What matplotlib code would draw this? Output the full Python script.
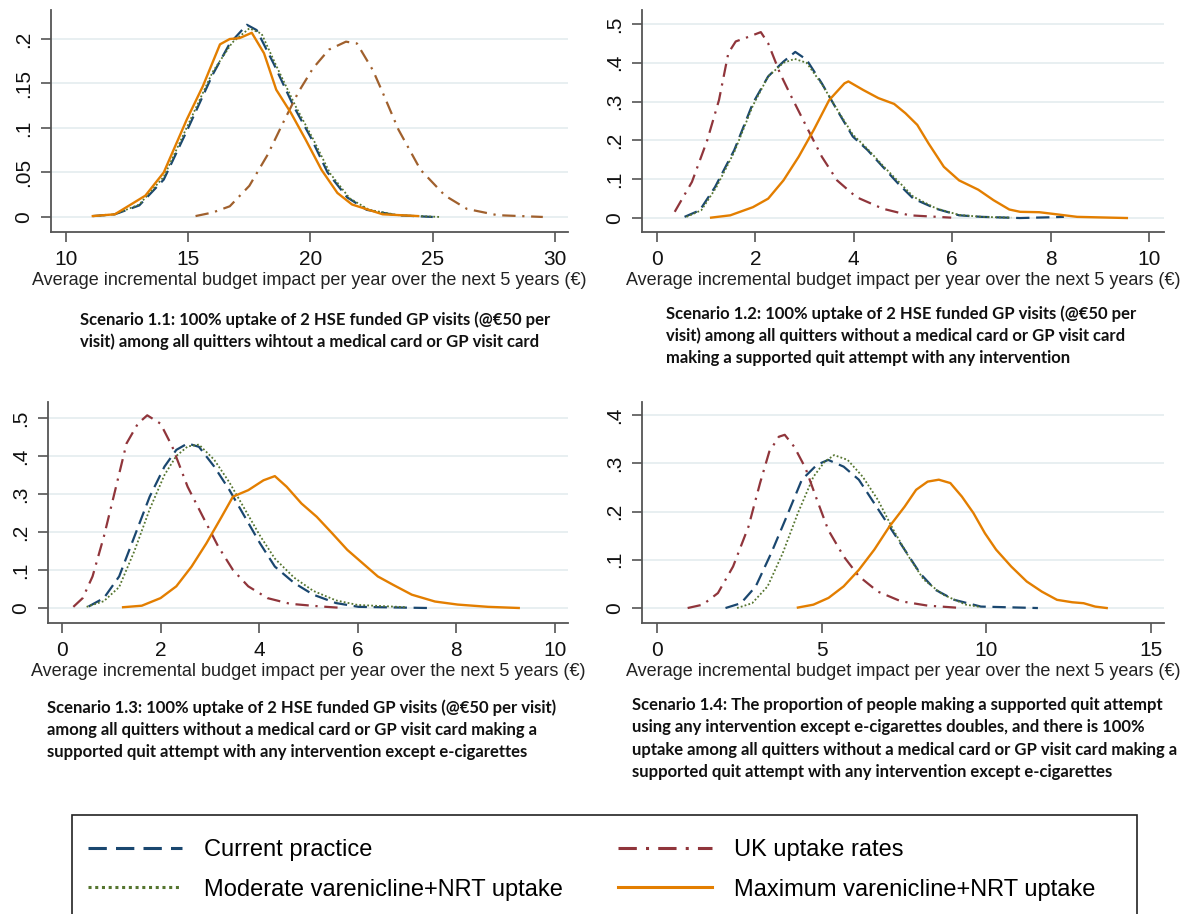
import numpy as np
import matplotlib
matplotlib.use("Agg")
import matplotlib.pyplot as plt
from matplotlib.lines import Line2D
from matplotlib.patches import Rectangle

# ---- data (kernel density curves) ----
# Scenario 1.1
s11_cur_x = [11.1, 12.0, 13.0, 14.0, 15.0, 16.0, 16.7, 17.4, 17.8, 18.5, 19.3, 20.0, 20.7, 21.5, 22.3, 23.5, 25.0]
s11_cur_y = [0.001, 0.003, 0.013, 0.042, 0.100, 0.160, 0.195, 0.216, 0.210, 0.172, 0.125, 0.090, 0.050, 0.022, 0.008, 0.002, 0.000]
s11_mod_x = [11.2, 12.0, 13.0, 14.0, 15.0, 16.0, 16.8, 17.5, 18.0, 18.6, 19.4, 20.1, 20.8, 21.6, 22.4, 23.6, 25.3]
s11_mod_y = [0.001, 0.003, 0.014, 0.045, 0.104, 0.163, 0.196, 0.212, 0.206, 0.170, 0.124, 0.088, 0.049, 0.021, 0.008, 0.002, 0.000]
s11_uk_x = [15.3, 16.0, 16.7, 17.5, 18.25, 18.9, 19.5, 20.1, 20.75, 21.45, 21.9, 22.55, 22.95, 23.6, 24.5, 25.5, 26.4, 27.65, 29.5]
s11_uk_y = [0.001, 0.005, 0.012, 0.035, 0.070, 0.107, 0.140, 0.167, 0.188, 0.197, 0.195, 0.165, 0.140, 0.098, 0.053, 0.024, 0.009, 0.002, 0.000]
s11_max_x = [11.1, 12.0, 13.25, 14.0, 14.95, 15.6, 16.3, 16.7, 17.1, 17.6, 18.1, 18.6, 19.2, 19.8, 20.45, 21.1, 21.7, 22.95, 24.4]
s11_max_y = [0.001, 0.003, 0.024, 0.050, 0.110, 0.147, 0.194, 0.200, 0.201, 0.207, 0.184, 0.143, 0.117, 0.087, 0.053, 0.027, 0.014, 0.003, 0.001]

# Scenario 1.2
s12_cur_x = [0.56, 0.87, 1.18, 1.57, 1.95, 2.26, 2.57, 2.81, 3.04, 3.35, 3.66, 3.98, 4.28, 4.59, 4.9, 5.21, 5.67, 6.14, 6.6, 7.38, 8.0, 8.27]
s12_cur_y = [0.003, 0.020, 0.080, 0.175, 0.296, 0.365, 0.403, 0.428, 0.408, 0.347, 0.278, 0.210, 0.175, 0.132, 0.089, 0.050, 0.024, 0.007, 0.003, 0.000, 0.002, 0.003]
s12_mod_x = [0.6, 0.9, 1.2, 1.57, 1.95, 2.26, 2.57, 2.8, 3.04, 3.35, 3.66, 3.98, 4.28, 4.59, 4.9, 5.21, 5.67, 6.14, 6.6, 7.2]
s12_mod_y = [0.003, 0.020, 0.078, 0.170, 0.290, 0.365, 0.400, 0.410, 0.400, 0.345, 0.280, 0.215, 0.178, 0.135, 0.095, 0.055, 0.025, 0.008, 0.003, 0.001]
s12_uk_x = [0.36, 0.71, 1.02, 1.26, 1.45, 1.6, 1.8, 2.11, 2.26, 2.5, 2.73, 3.04, 3.35, 3.66, 4.05, 4.59, 5.13, 5.98]
s12_uk_y = [0.016, 0.093, 0.200, 0.304, 0.425, 0.455, 0.464, 0.479, 0.450, 0.373, 0.313, 0.235, 0.158, 0.097, 0.054, 0.024, 0.007, 0.001]
s12_max_x = [1.1, 1.49, 1.95, 2.26, 2.57, 2.88, 3.19, 3.5, 3.81, 3.89, 4.19, 4.5, 4.82, 5.05, 5.29, 5.52, 5.83, 6.14, 6.53, 6.84, 7.16, 7.38, 7.77, 8.16, 8.54, 9.55]
s12_max_y = [0.001, 0.007, 0.028, 0.050, 0.097, 0.158, 0.228, 0.304, 0.347, 0.352, 0.330, 0.309, 0.294, 0.270, 0.240, 0.192, 0.132, 0.097, 0.073, 0.046, 0.022, 0.016, 0.015, 0.009, 0.003, 0.000]

# Scenario 1.3
s13_cur_x = [0.54, 0.85, 1.16, 1.47, 1.78, 2.08, 2.32, 2.55, 2.78, 3.09, 3.4, 3.71, 4.02, 4.32, 4.71, 5.1, 5.56, 6.02, 7.41]
s13_cur_y = [0.004, 0.026, 0.083, 0.188, 0.293, 0.372, 0.416, 0.433, 0.424, 0.372, 0.310, 0.240, 0.170, 0.109, 0.066, 0.035, 0.013, 0.003, 0.000]
s13_mod_x = [0.5, 0.85, 1.16, 1.47, 1.78, 2.08, 2.32, 2.55, 2.78, 3.09, 3.4, 3.71, 4.02, 4.32, 4.71, 5.1, 5.56, 6.0, 7.0]
s13_mod_y = [0.003, 0.018, 0.055, 0.150, 0.260, 0.350, 0.400, 0.425, 0.430, 0.390, 0.330, 0.260, 0.190, 0.130, 0.080, 0.045, 0.020, 0.008, 0.002]
s13_uk_x = [0.23, 0.42, 0.62, 0.85, 1.08, 1.31, 1.54, 1.73, 2.0, 2.24, 2.55, 2.86, 3.17, 3.47, 3.78, 4.17, 4.63, 5.25, 5.71]
s13_uk_y = [0.003, 0.026, 0.083, 0.188, 0.310, 0.433, 0.485, 0.507, 0.485, 0.424, 0.319, 0.240, 0.162, 0.100, 0.057, 0.026, 0.011, 0.004, 0.000]
s13_max_x = [1.24, 1.62, 2.0, 2.32, 2.63, 2.93, 3.24, 3.47, 3.78, 4.09, 4.32, 4.56, 4.86, 5.17, 5.48, 5.79, 6.1, 6.41, 6.72, 7.1, 7.57, 8.03, 8.65, 9.27]
s13_max_y = [0.002, 0.006, 0.026, 0.057, 0.109, 0.170, 0.240, 0.293, 0.310, 0.336, 0.347, 0.319, 0.275, 0.240, 0.197, 0.153, 0.118, 0.083, 0.061, 0.035, 0.017, 0.009, 0.003, 0.000]

# Scenario 1.4
s14_cur_x = [2.08, 2.55, 3.0, 3.47, 3.94, 4.4, 4.86, 5.2, 5.67, 6.13, 6.6, 7.06, 7.52, 7.99, 8.45, 9.03, 9.84, 11.57]
s14_cur_y = [0.000, 0.010, 0.045, 0.114, 0.190, 0.266, 0.297, 0.307, 0.293, 0.266, 0.217, 0.169, 0.121, 0.072, 0.038, 0.017, 0.003, 0.000]
s14_mod_x = [2.43, 2.89, 3.36, 3.82, 4.28, 4.75, 5.09, 5.38, 5.79, 6.25, 6.71, 7.18, 7.64, 8.1, 8.68, 9.38, 9.84]
s14_mod_y = [0.000, 0.010, 0.045, 0.114, 0.197, 0.272, 0.303, 0.317, 0.307, 0.272, 0.224, 0.162, 0.107, 0.059, 0.028, 0.007, 0.002]
s14_uk_x = [0.93, 1.39, 1.85, 2.31, 2.78, 3.13, 3.41, 3.7, 3.88, 4.17, 4.51, 4.86, 5.2, 5.67, 6.13, 6.71, 7.41, 8.22, 9.26]
s14_uk_y = [0.000, 0.007, 0.031, 0.086, 0.169, 0.259, 0.324, 0.355, 0.359, 0.334, 0.290, 0.224, 0.162, 0.107, 0.066, 0.034, 0.014, 0.005, 0.000]
s14_max_x = [4.28, 4.75, 5.21, 5.67, 6.13, 6.6, 7.06, 7.52, 7.87, 8.22, 8.56, 8.91, 9.26, 9.61, 9.96, 10.3, 10.76, 11.23, 11.69, 12.15, 12.61, 12.96, 13.31, 13.66]
s14_max_y = [0.001, 0.007, 0.021, 0.045, 0.079, 0.121, 0.169, 0.210, 0.245, 0.262, 0.266, 0.259, 0.231, 0.197, 0.155, 0.121, 0.086, 0.055, 0.034, 0.017, 0.012, 0.010, 0.003, 0.000]

series_names = ["Current practice", "Moderate varenicline+NRT uptake",
                "UK uptake rates", "Maximum varenicline+NRT uptake"]

captions = [
    ["Scenario 1.1: 100% uptake of 2 HSE funded GP visits (@€50 per",
     "visit) among all quitters wihtout a medical card or GP visit card"],
    ["Scenario 1.2: 100% uptake of 2 HSE funded GP visits (@€50 per",
     "visit) among all quitters without a medical card or GP visit card",
     "making a supported quit attempt with any intervention"],
    ["Scenario 1.3: 100% uptake of 2 HSE funded GP visits (@€50 per visit)",
     "among all quitters without a medical card or GP visit card making a",
     "supported quit attempt with any intervention except e-cigarettes"],
    ["Scenario 1.4: The proportion of people making a supported quit attempt",
     "using any intervention except e-cigarettes doubles, and there is 100%",
     "uptake among all quitters without a medical card or GP visit card making a",
     "supported quit attempt with any intervention except e-cigarettes"],
]

x_label = "Average incremental budget impact per year over the next 5 years (€)"

# ---- styles ----
NAVY, MAROON, GREEN, ORANGE = "#1a476f", "#90353b", "#55752f", "#e37e00"
BROWN = "#a0602d"
GRID = "#e6eef0"
AXC = "#555555"
styles = {
    "cur": dict(color=NAVY, lw=1.6, ls=(0, (6, 3))),
    "mod": dict(color=GREEN, lw=1.3, ls=(0, (1, 1.2))),
    "uk": dict(color=MAROON, lw=1.6, ls=(0, (6, 3, 1, 3))),
    "max": dict(color=ORANGE, lw=1.7, ls="-"),
}

plt.rcParams["font.family"] = ["Liberation Sans", "DejaVu Sans"]

W, H = 1199, 914
fig = plt.figure(figsize=(W / 100, H / 100), dpi=100)


def add_axes_px(left, right, top, bottom):
    return fig.add_axes([left / W, 1 - bottom / H, (right - left) / W, (bottom - top) / H])


def fmt_y(v):
    s = ("%g" % v)
    return s[1:] if s.startswith("0.") else s


def draw_panel(ax, data, xlim, ylim, xticks, yticks, uk_color=MAROON):
    for y in yticks:
        ax.axhline(y, color=GRID, lw=1.3, zorder=0)
    for key in ["cur", "mod", "uk", "max"]:
        xs, ys = data[key]
        st = dict(styles[key])
        if key == "uk":
            st["color"] = uk_color
        ax.plot(xs, ys, **st)
    ax.set_xlim(*xlim)
    ax.set_ylim(*ylim)
    ax.set_xticks(xticks)
    ax.set_xticklabels([str(t) for t in xticks])
    ax.set_yticks(yticks)
    ax.set_yticklabels([fmt_y(t) for t in yticks], rotation=90, va="center")
    for side in ["top", "right"]:
        ax.spines[side].set_visible(False)
    for side in ["left", "bottom"]:
        ax.spines[side].set_color(AXC)
        ax.spines[side].set_linewidth(1.3)
    ax.tick_params(direction="out", length=7, width=1.2, color=AXC,
                   labelsize=15, pad=6, labelcolor="#111111")
    ax.set_xlabel(x_label, fontsize=13, labelpad=2, color="#222222")


ax1 = add_axes_px(51, 568, 10, 232)
draw_panel(ax1, {"cur": (s11_cur_x, s11_cur_y), "mod": (s11_mod_x, s11_mod_y),
                 "uk": (s11_uk_x, s11_uk_y), "max": (s11_max_x, s11_max_y)},
           (9.39, 30.53), (-0.0169, 0.2326), [10, 15, 20, 25, 30],
           [0, 0.05, 0.1, 0.15, 0.2], uk_color=BROWN)

ax2 = add_axes_px(642, 1164, 10, 232)
draw_panel(ax2, {"cur": (s12_cur_x, s12_cur_y), "mod": (s12_mod_x, s12_mod_y),
                 "uk": (s12_uk_x, s12_uk_y), "max": (s12_max_x, s12_max_y)},
           (-0.305, 10.305), (-0.036, 0.536), [0, 2, 4, 6, 8, 10],
           [0, 0.1, 0.2, 0.3, 0.4, 0.5])

ax3 = add_axes_px(48, 568, 402, 623)
draw_panel(ax3, {"cur": (s13_cur_x, s13_cur_y), "mod": (s13_mod_x, s13_mod_y),
                 "uk": (s13_uk_x, s13_uk_y), "max": (s13_max_x, s13_max_y)},
           (-0.284, 10.27), (-0.0395, 0.542), [0, 2, 4, 6, 8, 10],
           [0, 0.1, 0.2, 0.3, 0.4, 0.5])

ax4 = add_axes_px(642, 1164, 402, 623)
draw_panel(ax4, {"cur": (s14_cur_x, s14_cur_y), "mod": (s14_mod_x, s14_mod_y),
                 "uk": (s14_uk_x, s14_uk_y), "max": (s14_max_x, s14_max_y)},
           (-0.456, 15.4), (-0.031, 0.427), [0, 5, 10, 15],
           [0, 0.1, 0.2, 0.3, 0.4])

# captions under each panel (one text per line)
cap_pos = [(80, [320, 342]), (666, [314, 336, 358]),
           (47, [708, 730, 752]), (632, [705, 727, 750, 772])]
for lines, (cx, ys) in zip(captions, cap_pos):
    for line, cy in zip(lines, ys):
        fig.text(cx / W, 1 - cy / H, line, fontsize=12, fontweight="bold",
                 family=["Lato", "DejaVu Sans"], va="center", ha="left", color="#111111")

# legend box at the bottom
fig.add_artist(Rectangle((72 / W, -0.02), (1137 - 72) / W, 1 - 815 / H + 0.02,
                         transform=fig.transFigure, fill=False, ec="#222222", lw=1.2))

handles = [Line2D([], [], **dict(styles[k], lw=2.2)) for k in ["cur", "mod", "uk", "max"]]
for i, lx in enumerate([88, 618]):
    fig.legend(handles[2 * i:2 * i + 2], series_names[2 * i:2 * i + 2],
               loc="upper left", bbox_to_anchor=(lx / W, 1 - 839 / H),
               frameon=False, fontsize=17, handlelength=4.0, handletextpad=0.9,
               borderpad=0, borderaxespad=0, labelspacing=0.75)

fig.savefig("out.png", dpi=100, facecolor="white")
